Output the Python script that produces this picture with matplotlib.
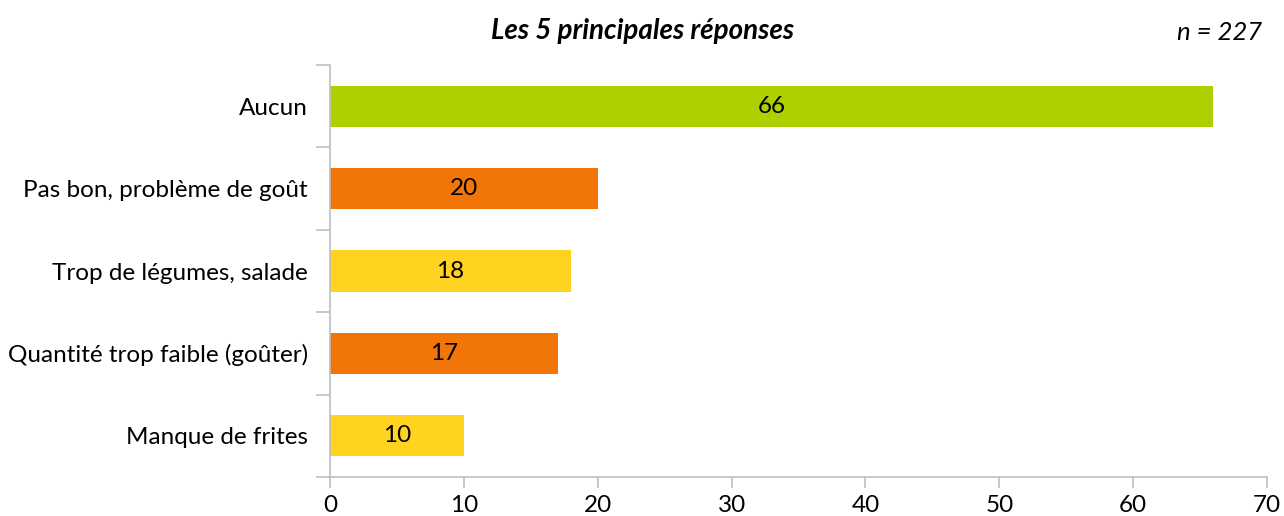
import matplotlib
matplotlib.use("Agg")
import matplotlib.pyplot as plt
import numpy as np

categories = ["Aucun", "Pas bon, problème de goût", "Trop de légumes, salade",
              "Quantité trop faible (goûter)", "Manque de frites"]
values = [66, 20, 18, 17, 10]
colors = ["#AFD000", "#F27507", "#FFD320", "#F27507", "#FFD320"]
xticks = [0, 10, 20, 30, 40, 50, 60, 70]

plt.rcParams['font.family'] = ['Lato', 'DejaVu Sans']
FS = 17.5

fig = plt.figure(figsize=(12.84, 5.16), dpi=100)
ax = fig.add_axes([330/1284, 1-477/516, (1267-330)/1284, (477-65)/516])

y = np.arange(len(categories))
ax.barh(y, values, height=0.5, color=colors, zorder=2)
ax.set_ylim(len(categories)-0.5, -0.5)
ax.set_xlim(0, 70)

for yi, v in zip(y, values):
    ax.text(v/2, yi, str(v), ha='center', va='center', fontsize=FS, color='black')

ax.set_yticks(y)
ax.set_yticklabels(categories, fontsize=FS)
ax.tick_params(axis='y', length=0, pad=16)
ax.set_yticks(np.arange(-0.5, len(categories)), minor=True)
ax.tick_params(axis='y', which='minor', length=10, color='#BFBFBF', width=1.2)

ax.set_xticks(xticks)
ax.set_xticklabels([str(t) for t in xticks], fontsize=FS)
ax.tick_params(axis='x', length=8, color='#BFBFBF', width=1.2, pad=5)

for s in ['top', 'right']:
    ax.spines[s].set_visible(False)
for s in ['left', 'bottom']:
    ax.spines[s].set_color('#BFBFBF')
    ax.spines[s].set_linewidth(1.2)

fig.text(643/1284, 1-31/516, "Les 5 principales réponses", ha='center', va='center',
         fontsize=20, fontweight='bold', fontstyle='italic')
fig.text(1262/1284, 1-33/516, "n = 227", ha='right', va='center',
         fontsize=18.5, fontstyle='italic')

fig.savefig("out.png", dpi=100)
